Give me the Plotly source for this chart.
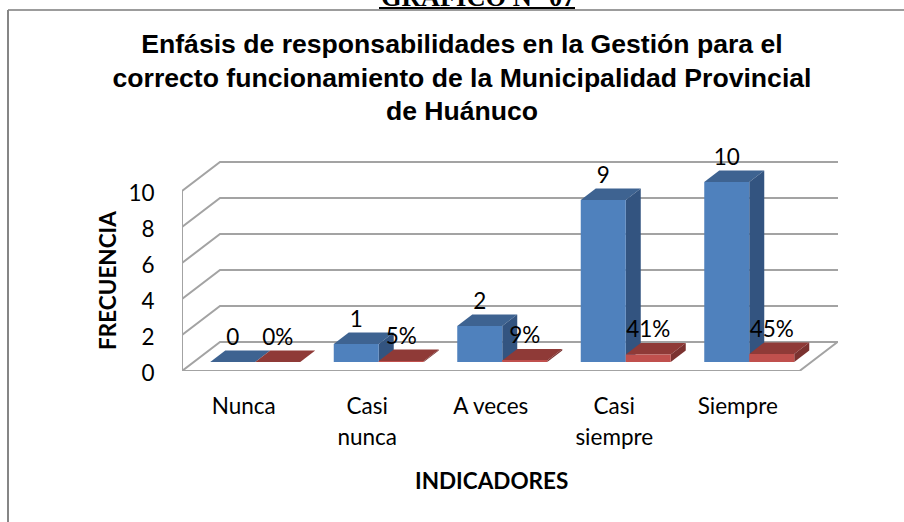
import plotly.graph_objects as go

# ==========================================================
# DATA
# ==========================================================

categories = ["Nunca", "Casi nunca", "A veces", "Casi siempre", "Siempre"]
tick_lines = [["Nunca"], ["Casi", "nunca"], ["A veces"], ["Casi", "siempre"], ["Siempre"]]
frecuencia = [0, 1, 2, 9, 10]
porcentaje = [0.00, 0.05, 0.09, 0.41, 0.45]
y_ticks = [0, 2, 4, 6, 8, 10]

title_lines = [
    "Enfásis de responsabilidades en la Gestión para el",
    "correcto funcionamiento de la Municipalidad Provincial",
    "de Huánuco",
]

# ==========================================================
# GEOMETRY (plot box in pixels, oblique depth in axis units)
# ==========================================================

PLOT_L, PLOT_R, PLOT_T, PLOT_B = 182, 840, 150, 371
X_UNIT = 123.5
Y_UNIT = 18.0
X_MIN = -0.5
X_MAX = X_MIN + (PLOT_R - PLOT_L) / X_UNIT
Y_MAX = (PLOT_B - PLOT_T) / Y_UNIT

WALL_DX, WALL_DY = 38 / X_UNIT, 29 / Y_UNIT
BAR_W = 45 / X_UNIT
BAR_DX, BAR_DY = 15 / X_UNIT, 11.5 / Y_UNIT
FRONT_DX, FRONT_DY = 11.5 / X_UNIT, 9 / Y_UNIT

BLUE = ("#4f81bd", "#3e6391", "#335480")
RED = ("#c0504d", "#8f3a37", "#7b3230")
GRID = "#a3a3a3"
LABEL_SIZE = 22.5


def px_x(px):
    return (px - PLOT_L) / (PLOT_R - PLOT_L)


def px_y(py):
    return (PLOT_B - py) / (PLOT_B - PLOT_T)


def poly(points, color):
    path = "M " + " L ".join(f"{x:.4f},{y:.4f}" for x, y in points) + " Z"
    return dict(type="path", path=path, xref="x", yref="y", layer="below",
                fillcolor=color, line=dict(width=0))


def wall_line(points):
    path = "M " + " L ".join(f"{x:.4f},{y:.4f}" for x, y in points)
    return dict(type="path", path=path, xref="x", yref="y", layer="below",
                line=dict(color=GRID, width=2))


shapes = []

# walls and floor
for tick in y_ticks:
    shapes.append(wall_line([
        (X_MIN, tick),
        (X_MIN + WALL_DX, tick + WALL_DY),
        (X_MAX - 2 / X_UNIT, tick + WALL_DY),
    ]))
shapes.append(wall_line([(X_MIN, 0), (X_MIN, y_ticks[-1])]))
shapes.append(wall_line([
    (X_MIN, 0),
    (X_MIN + len(categories), 0),
    (X_MIN + len(categories) + WALL_DX, WALL_DY),
]))

# side and top faces of the bars
blue_x, red_x = [], []
for i, (freq, pct) in enumerate(zip(frecuencia, porcentaje)):
    centre = i + FRONT_DX
    for left, value, colors in (
        (centre - BAR_W, freq, BLUE),
        (centre, pct, RED),
    ):
        right = left + BAR_W
        top = FRONT_DY + value
        shapes.append(poly([
            (left, top), (right, top),
            (right + BAR_DX, top + BAR_DY), (left + BAR_DX, top + BAR_DY),
        ], colors[1]))
        if value > 0:
            shapes.append(poly([
                (right, FRONT_DY), (right, top),
                (right + BAR_DX, top + BAR_DY), (right + BAR_DX, FRONT_DY + BAR_DY),
            ], colors[2]))
    blue_x.append(centre - BAR_W / 2)
    red_x.append(centre + BAR_W / 2)

# frame and the clipped heading above it
shapes.append(dict(type="line", xref="paper", yref="paper",
                   x0=px_x(8), x1=px_x(904), y0=px_y(10), y1=px_y(10),
                   line=dict(color="#9c9c9c", width=2)))
shapes.append(dict(type="line", xref="paper", yref="paper",
                   x0=px_x(8), x1=px_x(8), y0=px_y(10), y1=px_y(522),
                   line=dict(color="#868686", width=2)))
shapes.append(dict(type="line", xref="paper", yref="paper",
                   x0=px_x(379), x1=px_x(575), y0=px_y(8), y1=px_y(8),
                   line=dict(color="black", width=2)))

# ==========================================================
# FIGURE
# ==========================================================

fig = go.Figure()

fig.add_trace(go.Bar(
    x=blue_x, y=frecuencia, base=FRONT_DY, width=BAR_W,
    marker=dict(color=BLUE[0], line=dict(width=0)), name="Frecuencia",
))
fig.add_trace(go.Bar(
    x=red_x, y=porcentaje, base=FRONT_DY, width=BAR_W,
    marker=dict(color=RED[0], line=dict(width=0)), name="Porcentaje",
))

LABEL_GAP = 23 / Y_UNIT

fig.add_trace(go.Scatter(
    x=blue_x, y=[v + FRONT_DY + LABEL_GAP for v in frecuencia],
    mode="text", text=[str(v) for v in frecuencia],
    textposition="middle center", cliponaxis=False,
    textfont=dict(family="Lato", size=LABEL_SIZE, color="black"),
))
fig.add_trace(go.Scatter(
    x=red_x, y=[v + FRONT_DY + LABEL_GAP for v in porcentaje],
    mode="text", text=[f"{v:.0%}" for v in porcentaje],
    textposition="middle center", cliponaxis=False,
    textfont=dict(family="Lato", size=LABEL_SIZE, color="black"),
))

tick_text = [
    "<br>".join(f'<span style="font-size:{LABEL_SIZE}px">{line}</span>' for line in lines)
    for lines in tick_lines
]

fig.update_layout(
    width=904,
    height=522,
    margin=dict(l=PLOT_L, r=904 - PLOT_R, t=PLOT_T, b=522 - PLOT_B, autoexpand=False),
    paper_bgcolor="white",
    plot_bgcolor="white",
    showlegend=False,
    barmode="overlay",
    shapes=shapes,
    title=dict(
        text="<br>".join(f'<span style="font-size:26.6px">{line}</span>' for line in title_lines),
        font=dict(family="Liberation Sans", size=25.8, color="black", weight="bold"),
        x=462 / 904,
        xanchor="center",
        y=1 - 53 / 522,
        yanchor="top",
    ),
    xaxis=dict(
        range=[X_MIN, X_MAX],
        tickmode="array",
        tickvals=list(range(len(categories))),
        ticktext=tick_text,
        ticks="outside",
        ticklen=13,
        tickcolor="rgba(0,0,0,0)",
        tickfont=dict(family="Lato", size=24, color="black"),
        showgrid=False,
        showline=False,
        zeroline=False,
    ),
    yaxis=dict(
        range=[0, Y_MAX],
        tickmode="array",
        tickvals=y_ticks,
        ticks="outside",
        ticklen=22,
        tickcolor="rgba(0,0,0,0)",
        tickfont=dict(family="Lato", size=LABEL_SIZE, color="black"),
        ticklabelshift=2,
        showgrid=False,
        showline=False,
        zeroline=False,
    ),
    annotations=[
        dict(text="<b>GRÁFICO N° 07</b>", xref="paper", yref="paper",
             x=px_x(478), y=px_y(-3), xanchor="center", yanchor="middle", showarrow=False,
             font=dict(family="Liberation Serif", size=26.5, color="black")),
        dict(text="<b>INDICADORES</b>", xref="paper", yref="paper",
             x=px_x(491), y=px_y(480), xanchor="center", yanchor="middle", showarrow=False,
             font=dict(family="Lato", size=LABEL_SIZE, color="black")),
        dict(text="<b>FRECUENCIA</b>", xref="paper", yref="paper",
             x=px_x(107), y=px_y(281), xanchor="center", yanchor="middle", showarrow=False,
             textangle=-90,
             font=dict(family="Lato", size=LABEL_SIZE, color="black")),
    ],
)

# the browser's default body margin would push the page 8px off
fig.write_html(
    "out.html",
    config={"displayModeBar": False},
    post_script="document.body.style.margin='0';",
)
